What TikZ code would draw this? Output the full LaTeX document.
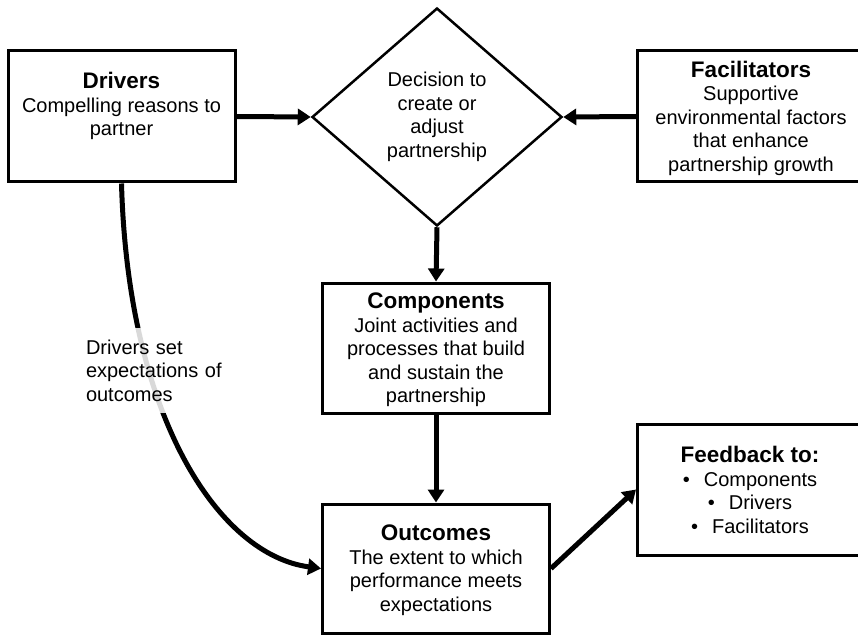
\documentclass[tikz,border=0pt]{standalone}
\usepackage{fontspec}
\setmainfont{Liberation Sans}
\usetikzlibrary{arrows.meta,shapes.geometric}
\newcommand\bodyfnt{\fontsize{20}{23.5}\selectfont}
\newcommand\ttl[1]{{\fontsize{22.5}{26}\selectfont\bfseries #1}}
\newcommand\bul{\textbullet\hspace{0.7em}}
\begin{document}
\begin{tikzpicture}[x=1pt,y=-1pt,
  box/.style={draw, line width=3pt, rectangle, inner sep=0pt, minimum width=227pt},
  txt/.style={align=center, font=\bodyfnt, inner sep=0pt},
  conn/.style={line width=5pt, -{Triangle[length=13pt,width=16pt]}},
]
\clip (0,0) rectangle (858,636);
\useasboundingbox (0,0) rectangle (858,636);

% boxes
\node[box, minimum height=131pt] (drivers) at (121.5,116.5) {};
\node[box, minimum height=131pt] (facil) at (751,116.5) {};
\node[box, minimum height=130pt] (comp) at (436,348) {};
\node[box, minimum height=129pt] (outc) at (436,568.5) {};
\node[box, minimum height=131pt] (feed) at (751,489.5) {};
\node[diamond, draw, line width=2.5pt, minimum width=250pt, minimum height=218pt,
      inner sep=0pt, align=center, font=\bodyfnt] (dec) at (437,117)
      {Decision to\\create or\\adjust\\partnership};

% texts
\node[txt] (driverst) at (121.5,106) {\ttl{Drivers}\\Compelling reasons to\\partner};
\node[txt] (facilt) at (751,118) {\ttl{Facilitators}\\Supportive\\environmental factors\\that enhance\\partnership growth};
\node[txt] (compt) at (436,350) {\ttl{Components}\\Joint activities and\\processes that build\\and sustain the\\partnership};
\node[txt] (outct) at (436,570) {\ttl{Outcomes}\\The extent to which\\performance meets\\expectations};
\node[txt] (feedt) at (750,490) {\ttl{Feedback to:}\\\bul Components\\\bul Drivers\\\bul Facilitators};

% connectors
\draw[conn] (drivers.east) -- (dec.west);
\draw[conn] (facil.west) -- (dec.east);
\draw[conn] (dec.south) -- (comp.north);
\draw[conn] (comp.south) -- (outc.north);
\draw[conn] (outc.east) -- (feed.west);
\draw[conn] (drivers.south) .. controls (128,420) and (220,555) .. (outc.west);

\node[fill=white, fill opacity=0.85, text opacity=1, align=left, text width=183pt,
      inner xsep=13pt, inner ysep=0pt, minimum height=85pt, font=\bodyfnt]
      (lbl) at (177.5,370.5) {Drivers set\\expectations of\\outcomes};
\end{tikzpicture}
\end{document}
